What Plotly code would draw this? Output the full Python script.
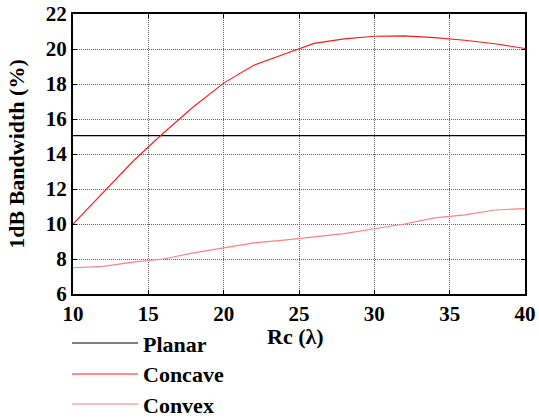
import plotly.graph_objects as go

rc = [10, 12, 14, 16, 18, 20, 22, 24, 26, 28, 30, 32, 34, 36, 38, 40]
planar = [15.05] * len(rc)
concave = [10.0, 11.8, 13.6, 15.2, 16.7, 18.05, 19.07, 19.7, 20.32, 20.58, 20.73, 20.75, 20.65, 20.5, 20.3, 20.03]
convex = [7.5, 7.58, 7.82, 8.0, 8.35, 8.65, 8.92, 9.08, 9.25, 9.45, 9.73, 10.0, 10.35, 10.52, 10.8, 10.88]

series_names = ["Planar", "Concave", "Convex"]
series_values = [planar, concave, convex]
series_colors = ["#000000", "#ff1a1a", "#ff8080"]

x_ticks = [10, 15, 20, 25, 30, 35, 40]
y_ticks = [6, 8, 10, 12, 14, 16, 18, 20, 22]

FONT = "Liberation Serif"
W, H = 539, 420
L, R, T, B = 73, 14, 14, 126
PW, PH = W - L - R, H - T - B

fig = go.Figure()
for name, vals, col in zip(series_names, series_values, series_colors):
    fig.add_trace(go.Scatter(x=rc, y=vals, mode="lines", name=name,
                             line=dict(color=col, width=1.1), showlegend=False))

# legend drawn below the axes (pixel rows converted to paper coords)
leg_rows = [343, 374, 404]
for row, name, col in zip(leg_rows, series_names, series_colors):
    yp = (H - B - row) / PH
    fig.add_shape(type="line", xref="paper", yref="paper",
                  x0=(72 - L) / PW, x1=(138 - L) / PW, y0=yp, y1=yp,
                  line=dict(color=col, width=1.1))
    fig.add_annotation(xref="paper", yref="paper",
                       x=(141 - L) / PW, y=yp - 1 / PH,
                       text="<b>%s</b>" % name, showarrow=False,
                       xanchor="left", yanchor="middle",
                       font=dict(family=FONT, size=22, color="black"))

# x axis title
fig.add_annotation(xref="paper", yref="paper",
                   x=(295 - L) / PW, y=(H - B - 336) / PH,
                   text="<b>Rc (λ)</b>", showarrow=False,
                   xanchor="center", yanchor="middle",
                   font=dict(family=FONT, size=22, color="black"))

axis_common = dict(
    showline=True, linecolor="black", linewidth=2, mirror="ticks",
    ticks="inside", ticklen=4, tickcolor="black", tickwidth=1,
    showgrid=True, gridcolor="#666666", gridwidth=1, griddash="1px,1px",
    zeroline=False, automargin=False,
    tickfont=dict(family=FONT, size=21, color="black"),
)

fig.update_xaxes(range=[10, 40], tickvals=x_ticks,
                 ticktext=["<b>%d</b>" % v for v in x_ticks],
                 **axis_common)
fig.update_yaxes(range=[6, 22], tickvals=y_ticks,
                 ticktext=["<b>%d</b>" % v for v in y_ticks],
                 title=dict(text="<b>1dB Bandwidth (%)</b>", font=dict(family=FONT, size=22, color="black")),
                 **axis_common)

fig.update_layout(
    width=W, height=H,
    margin=dict(l=L, r=R, t=T, b=B),
    plot_bgcolor="white", paper_bgcolor="white",
    showlegend=False,
)

fig.write_html("out.html", config={"displayModeBar": False},
               post_script="document.body.style.margin='0';")
